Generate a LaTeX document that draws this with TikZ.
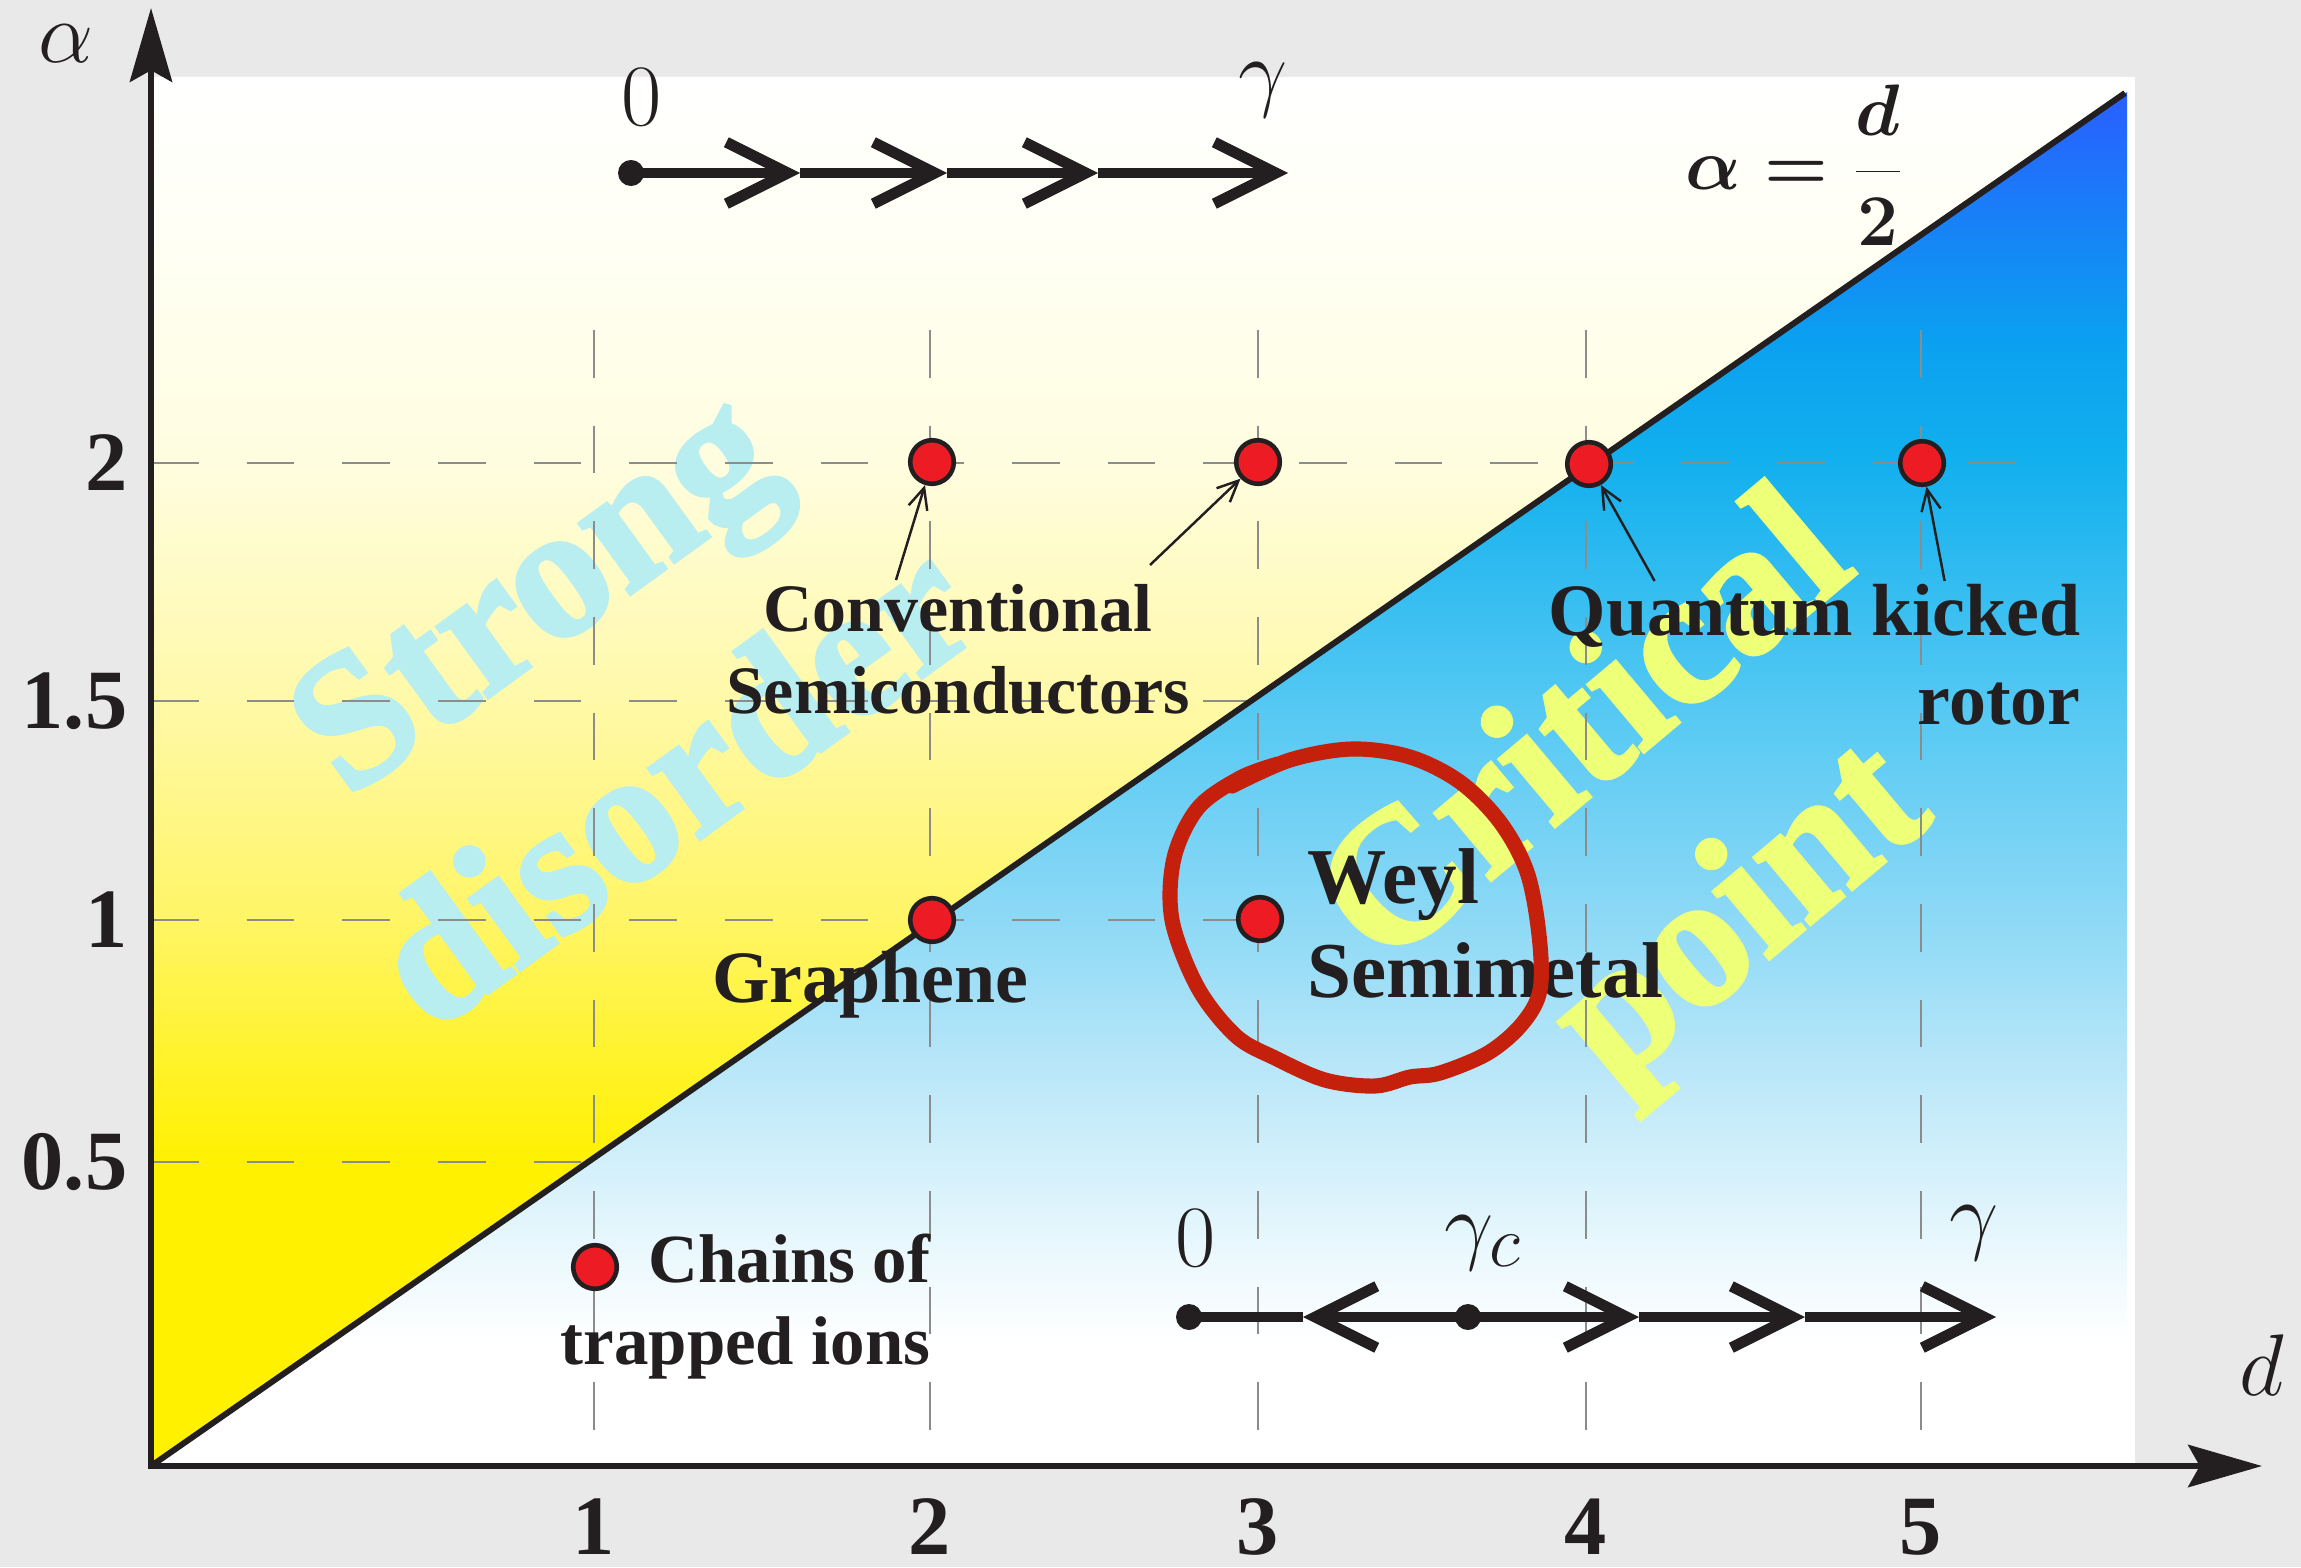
\documentclass[tikz,border=0pt]{standalone}
\usepackage{fontspec}
\setmainfont{Liberation Serif}
\newfontfamily\wmfont[FakeBold=2]{Liberation Serif}
\usepackage{tikz}
\usetikzlibrary{arrows.meta,calc}
\definecolor{pgbg}{HTML}{E9E9E9}
\definecolor{pgred}{HTML}{ED1C24}
\definecolor{pgring}{HTML}{C4200C}
\definecolor{pggrid}{HTML}{8C8C8C}
\definecolor{pgink}{HTML}{231F20}
\definecolor{pgcyan}{HTML}{B8EEF0}
\definecolor{pglime}{HTML}{EEFF78}
\definecolor{yel0}{HTML}{FFF100}
\definecolor{yel1}{HTML}{FFF566}
\definecolor{yel2}{HTML}{FFF9A8}
\definecolor{yel3}{HTML}{FFFDDF}
\definecolor{yel4}{HTML}{FFFFF4}
\definecolor{blu1}{HTML}{EAF8FD}
\definecolor{blu2}{HTML}{C2EAF9}
\definecolor{blu3}{HTML}{8DD9F6}
\definecolor{blu4}{HTML}{52C8F3}
\definecolor{blu5}{HTML}{12B0EE}
\definecolor{blu6}{HTML}{0AA0F0}
\definecolor{blu7}{HTML}{1A7CF8}
\definecolor{blu8}{HTML}{2A5EFF}
\pgfdeclareverticalshading{yellowfade}{100bp}{color(0bp)=(yel0); color(35.9bp)=(yel0);
  color(44.7bp)=(yel1); color(52.5bp)=(yel2); color(61.1bp)=(yel3); color(68.8bp)=(yel4);
  color(75bp)=(white); color(100bp)=(white)}
\pgfdeclareverticalshading{bluefade}{100bp}{color(0bp)=(white); color(29.5bp)=(white);
  color(32.8bp)=(blu1); color(38.3bp)=(blu2); color(44.9bp)=(blu3); color(52.9bp)=(blu4);
  color(61.6bp)=(blu5); color(66bp)=(blu6); color(71bp)=(blu7); color(75bp)=(blu8);
  color(100bp)=(blu8)}

\begin{document}
\begin{tikzpicture}[
  x=0.01cm,y=-0.01cm,
  every node/.style={inner sep=0pt,text=pgink},
  lbl/.style={font=\fontsize{21}{25.3}\selectfont\bfseries},
  tick/.style={font=\fontsize{24}{28}\selectfont\bfseries},
  wm/.style={font=\fontsize{54}{68}\selectfont\wmfont\bfseries,align=center},
  axis/.style={line width=1.8pt,draw=pgink,{Stealth[length=21pt,width=12pt,inset=3.3pt]}-{Stealth[length=21pt,width=12pt,inset=3.3pt]}},
  grid/.style={draw=pggrid,line width=0.45pt,dash pattern=on 13.6pt off 13.6pt},
  site/.style={circle,draw=pgink,fill=pgred,line width=1.3pt,minimum size=12.4pt},
  fdot/.style={circle,fill=pgink,minimum size=7.4pt},
  flowline/.style={line width=3.1pt,draw=pgink},
  chev/.style={flowline,-{Straight Barb[length=17.5pt,width=17.5pt,sharp]}},
  flowlbl/.style={font=\fontsize{29}{32}\selectfont},
  ptr/.style={line width=0.7pt,draw=pgink,-{Straight Barb[length=6pt,width=5.5pt]}},
  ring/.style={draw=pgring,line width=4.3pt,line cap=round}
]
% background and the two regions
\fill[pgbg] (0,0) rectangle (2301,1567);
\fill[white] (151,77) rectangle (2135,1466);
\coordinate (O) at (151,1466);
\coordinate (dtop) at (2125,93);
\shade[shading=yellowfade] (O) -- (151,77) -- (2127,77) -- (2127,92) -- cycle;
\shade[shading=bluefade] (O) -- (2127,92) -- (2127,1466) -- cycle;

% region names
\node[wm,text=pgcyan,rotate=36] (strong) at (602,686) {Strong\\disorder};
\node[wm,text=pglime,rotate=40] (critical) at (1668,828) {Critical\\point};

% grid
\foreach \x in {594,930,1258,1586,1921}
  \draw[grid] (\x,330) -- (\x,1466);
\draw[grid] (151,463) -- (2019,463);
\draw[grid] (151,701) -- (1247,701);
\draw[grid] (151,920) -- (1258,920);
\draw[grid] (151,1162) -- (595,1162);

% boundary alpha = d/2
\draw[line width=1.7pt,pgink] (O) -- (dtop);
\node[font=\fontsize{20}{24}\selectfont] (slope) at (1795,165) {{\boldmath$\displaystyle\alpha=\frac{d}{2}$}};

% axes
\coordinate (ytop) at (151,8);
\coordinate (xend) at (2262,1466);
\draw[axis] (ytop) -- (O) -- (xend);
\node[font=\fontsize{28.5}{30}\selectfont] (alab) at (66,44) {$\alpha$};
\node[font=\fontsize{32}{34}\selectfont] (dlab) at (2262,1365) {$d$};
\foreach \x/\t in {594/1,930/2,1258/3,1586/4,1921/5}
  \node[tick] (xt\t) at (\x,1527) {\t};
\foreach \y/\t in {463/2,701/1.5,920/1,1162/0.5}
  \node[tick,anchor=east] (yt\t) at (128,\y) {\t};

% flow on top
\node[fdot] (u0) at (631,173) {};
\coordinate (u1) at (800,173);
\coordinate (u2) at (947,173);
\coordinate (u3) at (1098,173);
\coordinate (u4) at (1288,173);
\draw[chev] (u0.center) -- (u1);
\draw[chev] (u1) -- (u2);
\draw[chev] (u2) -- (u3);
\draw[chev] (u3) -- (u4);
\node[flowlbl] (u0lab) at (642,97) {$0$};
\node[flowlbl] (u4lab) at (1263,90) {$\gamma$};

% flow at the bottom
\node[fdot] (l0) at (1189,1317) {};
\node[fdot] (lc) at (1468,1317) {};
\coordinate (lb) at (1303,1317);
\coordinate (l1) at (1639,1317);
\coordinate (l2) at (1805,1317);
\coordinate (l3) at (1996,1317);
\draw[flowline] (l0.center) -- (lb);
\draw[chev] (lc.center) -- (lb);
\draw[chev] (lc.center) -- (l1);
\draw[chev] (l1) -- (l2);
\draw[chev] (l2) -- (l3);
\node[flowlbl] (l0lab) at (1196,1238) {$0$};
\node[flowlbl] (lclab) at (1483,1243) {$\gamma_c$};
\node[flowlbl] (l3lab) at (1974,1233) {$\gamma$};

% systems
\node[site] (s1) at (932,462) {};
\node[site] (s2) at (1258,462) {};
\node[site] (s3) at (1589,464) {};
\node[site] (s4) at (1922,463) {};
\node[site] (s5) at (932,920) {};
\node[site] (s6) at (1260,919) {};
\node[site] (s7) at (595,1267) {};

\node[lbl,font=\fontsize{19.3}{23.3}\selectfont\bfseries,align=center,anchor=north] (conv) at (958,584) {Conventional\\Semiconductors};
\node[lbl,anchor=base] (graph) at (870,1002) {Graphene};
\node[lbl,align=right,anchor=north east] (qkr) at (2081,584) {Quantum kicked\\rotor};
\node[lbl,font=\fontsize{22.5}{26.7}\selectfont\bfseries,align=left,anchor=north west] (weyl) at (1307,848) {Weyl\\Semimetal};
\node[lbl,font=\fontsize{19.6}{23.3}\selectfont\bfseries,align=right,anchor=north east] (ions) at (931,1233) {Chains of\\trapped ions};

\draw[ptr] ($(conv.north)+(-62,-4)$) -- (s1);
\draw[ptr] ($(conv.north)+(192,-19)$) -- (s2);
\draw[ptr] ($(qkr.north)+(-160,-3)$) -- (s3);
\draw[ptr] ($(qkr.north)+(130,-3)$) -- (s4);

% hand drawn ring round the Weyl point
\draw[ring] plot[smooth,tension=0.55] coordinates {(1232,786) (1290,760) (1352,749)
  (1410,757) (1460,782) (1500,822) (1527,872) (1539,935) (1540,990) (1522,1024)
  (1488,1053) (1440,1073) (1410,1077) (1375,1086) (1325,1080) (1275,1058) (1236,1036)
  (1198,988) (1172,920) (1174,858) (1198,808) (1240,778) (1278,764)};
\end{tikzpicture}
\end{document}
